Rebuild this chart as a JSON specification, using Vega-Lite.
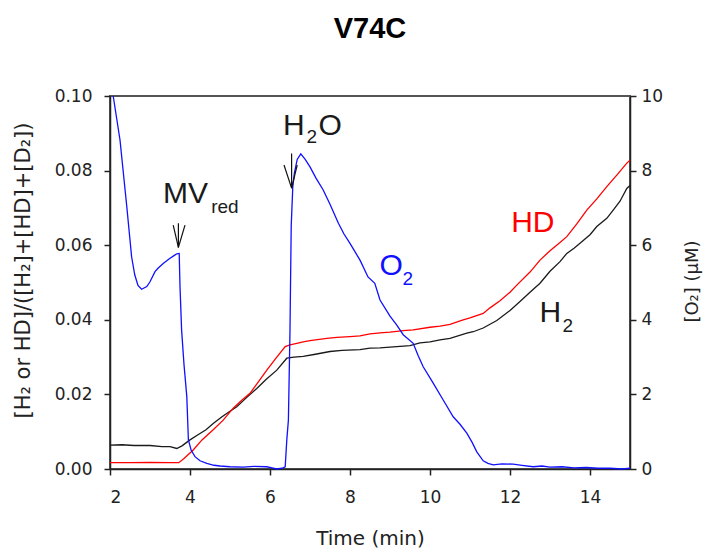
{
  "$schema": "https://vega.github.io/schema/vega-lite/v6.json",
  "width": 520,
  "height": 373,
  "autosize": "none",
  "padding": {"left": 110, "top": 96, "right": 77, "bottom": 86},
  "background": "white",
  "title": {
    "text": "V74C",
    "font": "Liberation Sans",
    "fontSize": 29,
    "fontWeight": "bold",
    "color": "#000000",
    "anchor": "middle",
    "offset": 43
  },
  "config": {
    "view": {"stroke": "#555555", "strokeWidth": 2},
    "axis": {
      "grid": false,
      "domainColor": "#222222",
      "domainWidth": 1.5,
      "tickColor": "#222222",
      "tickWidth": 1.5,
      "tickSize": 6,
      "labelFont": "DejaVu Sans",
      "labelFontSize": 17,
      "labelColor": "#222222",
      "titleFont": "DejaVu Sans",
      "titleFontWeight": "normal",
      "titleColor": "#222222"
    },
    "legend": {"disable": true}
  },
  "datasets": {
    "ratios": [
      {"time": 2.0, "frac": 0.0064, "series": "H2"},
      {"time": 2.3, "frac": 0.0065, "series": "H2"},
      {"time": 2.6, "frac": 0.0063, "series": "H2"},
      {"time": 3.0, "frac": 0.0063, "series": "H2"},
      {"time": 3.3, "frac": 0.0060, "series": "H2"},
      {"time": 3.5, "frac": 0.0060, "series": "H2"},
      {"time": 3.67, "frac": 0.0055, "series": "H2"},
      {"time": 3.8, "frac": 0.0062, "series": "H2"},
      {"time": 4.0, "frac": 0.0078, "series": "H2"},
      {"time": 4.2, "frac": 0.0092, "series": "H2"},
      {"time": 4.4, "frac": 0.0105, "series": "H2"},
      {"time": 4.58, "frac": 0.0122, "series": "H2"},
      {"time": 4.8, "frac": 0.0140, "series": "H2"},
      {"time": 5.0, "frac": 0.0155, "series": "H2"},
      {"time": 5.17, "frac": 0.0167, "series": "H2"},
      {"time": 5.4, "frac": 0.0190, "series": "H2"},
      {"time": 5.67, "frac": 0.0216, "series": "H2"},
      {"time": 5.9, "frac": 0.0240, "series": "H2"},
      {"time": 6.17, "frac": 0.0265, "series": "H2"},
      {"time": 6.42, "frac": 0.0297, "series": "H2"},
      {"time": 6.6, "frac": 0.0300, "series": "H2"},
      {"time": 6.83, "frac": 0.0302, "series": "H2"},
      {"time": 7.1, "frac": 0.0307, "series": "H2"},
      {"time": 7.5, "frac": 0.0315, "series": "H2"},
      {"time": 7.8, "frac": 0.0318, "series": "H2"},
      {"time": 8.25, "frac": 0.0320, "series": "H2"},
      {"time": 8.5, "frac": 0.0324, "series": "H2"},
      {"time": 8.75, "frac": 0.0325, "series": "H2"},
      {"time": 9.0, "frac": 0.0327, "series": "H2"},
      {"time": 9.5, "frac": 0.0331, "series": "H2"},
      {"time": 9.75, "frac": 0.0338, "series": "H2"},
      {"time": 10.0, "frac": 0.0341, "series": "H2"},
      {"time": 10.25, "frac": 0.0346, "series": "H2"},
      {"time": 10.5, "frac": 0.0350, "series": "H2"},
      {"time": 10.92, "frac": 0.0364, "series": "H2"},
      {"time": 11.08, "frac": 0.0368, "series": "H2"},
      {"time": 11.33, "frac": 0.0378, "series": "H2"},
      {"time": 11.67, "frac": 0.0398, "series": "H2"},
      {"time": 12.0, "frac": 0.0425, "series": "H2"},
      {"time": 12.25, "frac": 0.0449, "series": "H2"},
      {"time": 12.5, "frac": 0.0474, "series": "H2"},
      {"time": 12.75, "frac": 0.0498, "series": "H2"},
      {"time": 13.0, "frac": 0.0530, "series": "H2"},
      {"time": 13.25, "frac": 0.0556, "series": "H2"},
      {"time": 13.42, "frac": 0.0578, "series": "H2"},
      {"time": 13.6, "frac": 0.0592, "series": "H2"},
      {"time": 13.75, "frac": 0.0605, "series": "H2"},
      {"time": 14.0, "frac": 0.0628, "series": "H2"},
      {"time": 14.17, "frac": 0.0650, "series": "H2"},
      {"time": 14.42, "frac": 0.0672, "series": "H2"},
      {"time": 14.58, "frac": 0.0694, "series": "H2"},
      {"time": 14.75, "frac": 0.0718, "series": "H2"},
      {"time": 14.92, "frac": 0.0752, "series": "H2"},
      {"time": 15.0, "frac": 0.0760, "series": "H2"},
      {"time": 2.0, "frac": 0.0017, "series": "HD"},
      {"time": 2.5, "frac": 0.0017, "series": "HD"},
      {"time": 3.0, "frac": 0.0018, "series": "HD"},
      {"time": 3.5, "frac": 0.0017, "series": "HD"},
      {"time": 3.72, "frac": 0.0017, "series": "HD"},
      {"time": 3.85, "frac": 0.0028, "series": "HD"},
      {"time": 4.08, "frac": 0.0051, "series": "HD"},
      {"time": 4.3, "frac": 0.0078, "series": "HD"},
      {"time": 4.58, "frac": 0.0105, "series": "HD"},
      {"time": 4.83, "frac": 0.0131, "series": "HD"},
      {"time": 5.08, "frac": 0.0163, "series": "HD"},
      {"time": 5.3, "frac": 0.0185, "series": "HD"},
      {"time": 5.5, "frac": 0.0203, "series": "HD"},
      {"time": 5.7, "frac": 0.0232, "series": "HD"},
      {"time": 5.92, "frac": 0.0265, "series": "HD"},
      {"time": 6.15, "frac": 0.0297, "series": "HD"},
      {"time": 6.38, "frac": 0.0328, "series": "HD"},
      {"time": 6.5, "frac": 0.0333, "series": "HD"},
      {"time": 6.67, "frac": 0.0337, "series": "HD"},
      {"time": 6.83, "frac": 0.0341, "series": "HD"},
      {"time": 7.0, "frac": 0.0344, "series": "HD"},
      {"time": 7.42, "frac": 0.0350, "series": "HD"},
      {"time": 7.67, "frac": 0.0353, "series": "HD"},
      {"time": 8.0, "frac": 0.0355, "series": "HD"},
      {"time": 8.25, "frac": 0.0357, "series": "HD"},
      {"time": 8.5, "frac": 0.0362, "series": "HD"},
      {"time": 8.75, "frac": 0.0365, "series": "HD"},
      {"time": 9.0, "frac": 0.0367, "series": "HD"},
      {"time": 9.33, "frac": 0.0371, "series": "HD"},
      {"time": 9.58, "frac": 0.0373, "series": "HD"},
      {"time": 10.0, "frac": 0.0380, "series": "HD"},
      {"time": 10.25, "frac": 0.0383, "series": "HD"},
      {"time": 10.5, "frac": 0.0388, "series": "HD"},
      {"time": 10.83, "frac": 0.0400, "series": "HD"},
      {"time": 11.0, "frac": 0.0405, "series": "HD"},
      {"time": 11.33, "frac": 0.0417, "series": "HD"},
      {"time": 11.5, "frac": 0.0432, "series": "HD"},
      {"time": 11.75, "frac": 0.0451, "series": "HD"},
      {"time": 12.0, "frac": 0.0474, "series": "HD"},
      {"time": 12.17, "frac": 0.0493, "series": "HD"},
      {"time": 12.5, "frac": 0.0528, "series": "HD"},
      {"time": 12.75, "frac": 0.0560, "series": "HD"},
      {"time": 13.0, "frac": 0.0585, "series": "HD"},
      {"time": 13.25, "frac": 0.0607, "series": "HD"},
      {"time": 13.42, "frac": 0.0623, "series": "HD"},
      {"time": 13.67, "frac": 0.0657, "series": "HD"},
      {"time": 13.92, "frac": 0.0694, "series": "HD"},
      {"time": 14.17, "frac": 0.0724, "series": "HD"},
      {"time": 14.42, "frac": 0.0757, "series": "HD"},
      {"time": 14.67, "frac": 0.0788, "series": "HD"},
      {"time": 14.92, "frac": 0.0820, "series": "HD"},
      {"time": 15.0, "frac": 0.0828, "series": "HD"}
    ],
    "oxygen": [
      {"time": 2.08, "o2": 10.0},
      {"time": 2.25, "o2": 8.82},
      {"time": 2.42, "o2": 7.03},
      {"time": 2.54, "o2": 5.69},
      {"time": 2.62, "o2": 5.2},
      {"time": 2.7, "o2": 4.92},
      {"time": 2.79, "o2": 4.82},
      {"time": 2.92, "o2": 4.89},
      {"time": 3.0, "o2": 5.02},
      {"time": 3.125, "o2": 5.29},
      {"time": 3.2, "o2": 5.38},
      {"time": 3.33, "o2": 5.51},
      {"time": 3.5, "o2": 5.65},
      {"time": 3.6, "o2": 5.72},
      {"time": 3.67, "o2": 5.77},
      {"time": 3.73, "o2": 5.78},
      {"time": 3.75, "o2": 4.9},
      {"time": 3.79, "o2": 3.73},
      {"time": 3.85, "o2": 2.8},
      {"time": 3.92, "o2": 1.94},
      {"time": 3.96, "o2": 0.78},
      {"time": 4.03, "o2": 0.5},
      {"time": 4.125, "o2": 0.33},
      {"time": 4.25, "o2": 0.22},
      {"time": 4.42, "o2": 0.15},
      {"time": 4.6, "o2": 0.1},
      {"time": 4.75, "o2": 0.08},
      {"time": 5.0, "o2": 0.06},
      {"time": 5.33, "o2": 0.05},
      {"time": 5.6, "o2": 0.07},
      {"time": 5.92, "o2": 0.06},
      {"time": 6.05, "o2": 0.03},
      {"time": 6.17, "o2": 0.0},
      {"time": 6.3, "o2": 0.02},
      {"time": 6.38, "o2": 0.06},
      {"time": 6.42, "o2": 0.78},
      {"time": 6.46, "o2": 1.31},
      {"time": 6.5, "o2": 3.73},
      {"time": 6.53, "o2": 6.5},
      {"time": 6.57, "o2": 7.57},
      {"time": 6.61, "o2": 7.93},
      {"time": 6.68, "o2": 8.3},
      {"time": 6.77, "o2": 8.45},
      {"time": 6.88, "o2": 8.3},
      {"time": 7.0, "o2": 8.1},
      {"time": 7.15, "o2": 7.8},
      {"time": 7.33, "o2": 7.48},
      {"time": 7.5, "o2": 7.1},
      {"time": 7.71, "o2": 6.59},
      {"time": 7.85, "o2": 6.3},
      {"time": 8.0, "o2": 6.05},
      {"time": 8.25, "o2": 5.6},
      {"time": 8.45, "o2": 5.15},
      {"time": 8.62, "o2": 4.98},
      {"time": 8.75, "o2": 4.53},
      {"time": 9.0, "o2": 4.1},
      {"time": 9.17, "o2": 3.86},
      {"time": 9.33, "o2": 3.6},
      {"time": 9.58, "o2": 3.37},
      {"time": 9.7, "o2": 3.05},
      {"time": 9.83, "o2": 2.74},
      {"time": 10.08, "o2": 2.3},
      {"time": 10.33, "o2": 1.85},
      {"time": 10.58, "o2": 1.4},
      {"time": 10.75, "o2": 1.2},
      {"time": 10.92, "o2": 0.96},
      {"time": 11.05, "o2": 0.72},
      {"time": 11.17, "o2": 0.46},
      {"time": 11.33, "o2": 0.22},
      {"time": 11.45, "o2": 0.15},
      {"time": 11.58, "o2": 0.11},
      {"time": 11.8, "o2": 0.14},
      {"time": 12.08, "o2": 0.13},
      {"time": 12.3, "o2": 0.1},
      {"time": 12.58, "o2": 0.06},
      {"time": 12.8, "o2": 0.08},
      {"time": 13.0, "o2": 0.05},
      {"time": 13.3, "o2": 0.06},
      {"time": 13.6, "o2": 0.03},
      {"time": 13.9, "o2": 0.04},
      {"time": 14.2, "o2": 0.02},
      {"time": 14.5, "o2": 0.02},
      {"time": 14.8, "o2": 0.0},
      {"time": 15.0, "o2": 0.02}
    ],
    "arrows": [
      {"time": 3.71, "frac": 0.0659, "time2": 3.71, "frac2": 0.0594},
      {"time": 3.58, "frac": 0.0654, "time2": 3.71, "frac2": 0.0594},
      {"time": 3.875, "frac": 0.0654, "time2": 3.71, "frac2": 0.0594},
      {"time": 6.54, "frac": 0.0846, "time2": 6.54, "frac2": 0.0753},
      {"time": 6.35, "frac": 0.0815, "time2": 6.54, "frac2": 0.0753},
      {"time": 6.68, "frac": 0.0815, "time2": 6.54, "frac2": 0.0753}
    ],
    "labels": [
      {"time": 3.325, "frac": 0.0713, "label": "MV", "series": "note"},
      {"time": 6.325, "frac": 0.0895, "label": "H", "series": "note"},
      {"time": 7.21, "frac": 0.0895, "label": "O", "series": "note"},
      {"time": 12.03, "frac": 0.0636, "label": "HD", "series": "HD"},
      {"time": 8.74, "frac": 0.0520, "label": "O", "series": "O2"},
      {"time": 12.74, "frac": 0.0395, "label": "H", "series": "H2"}
    ],
    "subscripts": [
      {"time": 4.53, "frac": 0.0686, "label": "red", "series": "note"},
      {"time": 6.91, "frac": 0.0874, "label": "2", "series": "note"},
      {"time": 9.31, "frac": 0.0493, "label": "2", "series": "O2"},
      {"time": 13.31, "frac": 0.0368, "label": "2", "series": "H2"}
    ]
  },
  "encoding": {
    "x": {
      "field": "time",
      "type": "quantitative",
      "scale": {"domain": [2, 15], "nice": false, "zero": false},
      "axis": {
        "title": "Time (min)",
        "titleFontSize": 20,
        "titleBaseline": "alphabetic",
        "titleY": 75,
        "values": [2, 4, 6, 8, 10, 12, 14],
        "format": "d",
        "labelPadding": 14
      }
    }
  },
  "layer": [
    {
      "data": {"name": "ratios"},
      "mark": {"type": "line", "strokeWidth": 1.3},
      "encoding": {
        "y": {
          "field": "frac",
          "type": "quantitative",
          "scale": {"domain": [0, 0.1], "nice": false},
          "axis": {
            "title": "[H₂ or HD]/([H₂]+[HD]+[D₂])",
            "titleFontSize": 21,
            "titleAngle": -90,
            "titleBaseline": "middle",
            "titleX": -87,
            "titleY": 174,
            "values": [0, 0.02, 0.04, 0.06, 0.08, 0.1],
            "format": ".2f",
            "labelPadding": 12
          }
        },
        "color": {
          "field": "series",
          "type": "nominal",
          "scale": {"domain": ["H2", "HD", "O2", "note"], "range": ["#1a1a1a", "#ff0000", "#1010ff", "#1a1a1a"]},
          "legend": null
        }
      }
    },
    {
      "data": {"name": "oxygen"},
      "mark": {"type": "line", "strokeWidth": 1.3, "color": "#1010ff"},
      "encoding": {
        "y": {
          "field": "o2",
          "type": "quantitative",
          "scale": {"domain": [0, 10], "nice": false},
          "axis": {
            "orient": "right",
            "title": "[O₂] (µM)",
            "titleFontSize": 18,
            "titleAngle": -90,
            "titleBaseline": "middle",
            "titleX": 62,
            "titleY": 185,
            "values": [0, 2, 4, 6, 8, 10],
            "format": "d",
            "labelPadding": 5
          }
        }
      }
    },
    {
      "data": {"name": "arrows"},
      "mark": {"type": "rule", "strokeWidth": 1.2, "color": "#111111"},
      "encoding": {
        "x2": {"field": "time2"},
        "y": {"field": "frac", "type": "quantitative", "scale": {"domain": [0, 0.1], "nice": false}, "axis": null},
        "y2": {"field": "frac2"}
      }
    },
    {
      "data": {"name": "labels"},
      "mark": {"type": "text", "font": "Liberation Sans", "fontSize": 30, "align": "left", "baseline": "alphabetic"},
      "encoding": {
        "y": {"field": "frac", "type": "quantitative", "scale": {"domain": [0, 0.1], "nice": false}, "axis": null},
        "text": {"field": "label"},
        "color": {"field": "series", "type": "nominal", "legend": null}
      }
    },
    {
      "data": {"name": "subscripts"},
      "mark": {"type": "text", "font": "Liberation Sans", "fontSize": 19, "align": "left", "baseline": "alphabetic"},
      "encoding": {
        "y": {"field": "frac", "type": "quantitative", "scale": {"domain": [0, 0.1], "nice": false}, "axis": null},
        "text": {"field": "label"},
        "color": {"field": "series", "type": "nominal", "legend": null}
      }
    }
  ],
  "resolve": {"scale": {"y": "independent"}}
}
